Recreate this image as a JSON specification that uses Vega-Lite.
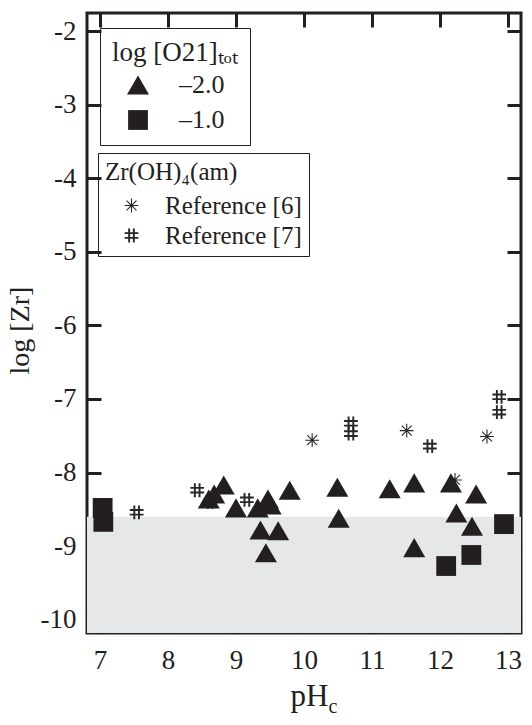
{
  "$schema": "https://vega.github.io/schema/vega-lite/v6.json",
  "width": 434,
  "height": 620,
  "autosize": {"type": "none"},
  "padding": {"left": 87, "top": 13, "right": 11, "bottom": 92},
  "config": {
    "font": "Liberation Serif",
    "view": {"stroke": "#231f20", "strokeWidth": 3},
    "axis": {
      "domain": false,
      "grid": false,
      "tickColor": "#231f20",
      "tickWidth": 3,
      "tickSize": -14,
      "labelFont": "Liberation Serif",
      "labelFontSize": 27,
      "labelColor": "#231f20",
      "titleFont": "Liberation Serif",
      "titleFontSize": 28,
      "titleFontWeight": "normal",
      "titleColor": "#231f20"
    },
    "legend": {
      "titleFont": "Liberation Serif",
      "titleFontSize": 27,
      "titleFontWeight": "normal",
      "titleColor": "#231f20",
      "labelFont": "Liberation Serif",
      "labelFontSize": 26,
      "labelColor": "#231f20",
      "strokeColor": "#231f20"
    }
  },
  "datasets": {
    "band": [{"upper": -8.6, "lower": -10.18}],
    "filled": [
      {"pH": 8.60, "logZr": -8.36, "O21": "–2.0"},
      {"pH": 8.68, "logZr": -8.29, "O21": "–2.0"},
      {"pH": 8.82, "logZr": -8.17, "O21": "–2.0"},
      {"pH": 9.00, "logZr": -8.48, "O21": "–2.0"},
      {"pH": 9.32, "logZr": -8.48, "O21": "–2.0"},
      {"pH": 9.47, "logZr": -8.36, "O21": "–2.0"},
      {"pH": 9.51, "logZr": -8.44, "O21": "–2.0"},
      {"pH": 9.36, "logZr": -8.78, "O21": "–2.0"},
      {"pH": 9.62, "logZr": -8.79, "O21": "–2.0"},
      {"pH": 9.44, "logZr": -9.09, "O21": "–2.0"},
      {"pH": 9.79, "logZr": -8.24, "O21": "–2.0"},
      {"pH": 10.49, "logZr": -8.20, "O21": "–2.0"},
      {"pH": 10.51, "logZr": -8.62, "O21": "–2.0"},
      {"pH": 11.26, "logZr": -8.22, "O21": "–2.0"},
      {"pH": 11.62, "logZr": -8.14, "O21": "–2.0"},
      {"pH": 11.62, "logZr": -9.02, "O21": "–2.0"},
      {"pH": 12.16, "logZr": -8.14, "O21": "–2.0"},
      {"pH": 12.53, "logZr": -8.29, "O21": "–2.0"},
      {"pH": 12.24, "logZr": -8.55, "O21": "–2.0"},
      {"pH": 12.47, "logZr": -8.73, "O21": "–2.0"},
      {"pH": 7.04, "logZr": -8.48, "O21": "–1.0"},
      {"pH": 7.05, "logZr": -8.67, "O21": "–1.0"},
      {"pH": 12.09, "logZr": -9.27, "O21": "–1.0"},
      {"pH": 12.46, "logZr": -9.12, "O21": "–1.0"},
      {"pH": 12.94, "logZr": -8.70, "O21": "–1.0"}
    ],
    "refs": [
      {"pH": 10.12, "logZr": -7.56, "ref": "Reference [6]"},
      {"pH": 11.51, "logZr": -7.43, "ref": "Reference [6]"},
      {"pH": 12.69, "logZr": -7.51, "ref": "Reference [6]"},
      {"pH": 12.22, "logZr": -8.10, "ref": "Reference [6]"},
      {"pH": 7.54, "logZr": -8.54, "ref": "Reference [7]"},
      {"pH": 8.43, "logZr": -8.24, "ref": "Reference [7]"},
      {"pH": 8.62, "logZr": -8.40, "ref": "Reference [7]"},
      {"pH": 9.16, "logZr": -8.37, "ref": "Reference [7]"},
      {"pH": 10.69, "logZr": -7.33, "ref": "Reference [7]"},
      {"pH": 10.69, "logZr": -7.47, "ref": "Reference [7]"},
      {"pH": 11.85, "logZr": -7.64, "ref": "Reference [7]"},
      {"pH": 12.87, "logZr": -6.97, "ref": "Reference [7]"},
      {"pH": 12.87, "logZr": -7.18, "ref": "Reference [7]"}
    ]
  },
  "layer": [
    {
      "data": {"name": "band"},
      "mark": {"type": "rect", "color": "#e6e7e8", "clip": true},
      "encoding": {
        "y": {"field": "upper", "type": "quantitative", "scale": {"domain": [-10.18, -1.755]}, "axis": null},
        "y2": {"field": "lower"}
      }
    },
    {
      "data": {"name": "refs"},
      "mark": {"type": "point", "filled": false, "color": "#2a2627", "strokeWidth": 1.1, "size": 190, "opacity": 1},
      "encoding": {
        "x": {
          "field": "pH", "type": "quantitative",
          "scale": {"domain": [6.81, 13.19], "nice": false, "zero": false},
          "axis": {"orient": "top", "labels": false, "values": [7, 8, 9, 10, 11, 12, 13],
                   "title": "c", "titleFontSize": 20, "titleX": 241, "titleY": 699,
                   "titleAlign": "left", "titleBaseline": "alphabetic", "titleAngle": 0}
        },
        "y": {
          "field": "logZr", "type": "quantitative",
          "scale": {"domain": [-10.18, -1.755], "nice": false, "zero": false},
          "axis": {"orient": "right", "labels": false, "title": null, "values": [-10, -9, -8, -7, -6, -5, -4, -3, -2]}
        },
        "shape": {
          "field": "ref", "type": "nominal",
          "scale": {"domain": ["Reference [6]", "Reference [7]"],
                    "range": ["M0,-1L0,1M-1,0L1,0M-0.72,-0.72L0.72,0.72M-0.72,0.72L0.72,-0.72",
                              "M-0.4,-1L-0.4,1M-0.28,-1L-0.28,1M0.28,-1L0.28,1M0.4,-1L0.4,1M-1,-0.4L1,-0.4M-1,-0.28L1,-0.28M-1,0.28L1,0.28M-1,0.4L1,0.4"]},
          "legend": {
            "title": "Zr(OH)₄(am)",
            "titleFontSize": 25, "labelFontSize": 25,
            "orient": "none", "legendX": 11, "legendY": 140,
            "padding": 7, "titlePadding": 8, "rowPadding": 4,
            "symbolOffset": 14, "labelOffset": 21,
            "symbolSize": 190, "symbolFillColor": "transparent", "symbolStrokeColor": "#2a2627", "symbolStrokeWidth": 1.1,
            "encode": {
              "legend": {"update": {"stroke": {"value": "#231f20"}, "strokeWidth": {"value": 2.5}}}
            }
          }
        }
      }
    },
    {
      "data": {"name": "filled"},
      "mark": {"type": "point", "filled": true, "color": "#231f20", "size": 484, "opacity": 1, "strokeWidth": 0},
      "encoding": {
        "x": {
          "field": "pH", "type": "quantitative",
          "scale": {"domain": [6.81, 13.19], "nice": false, "zero": false},
          "axis": {"orient": "bottom", "values": [7, 8, 9, 10, 11, 12, 13], "labelPadding": 28,
                   "title": "pH", "titleFontSize": 31, "titleX": 241, "titleY": 72, "titleAlign": "right", "titleBaseline": "alphabetic"}
        },
        "y": {
          "field": "logZr", "type": "quantitative",
          "scale": {"domain": [-10.18, -1.755], "nice": false, "zero": false},
          "axis": {"orient": "left", "values": [-10, -9, -8, -7, -6, -5, -4, -3, -2], "labelPadding": 25,
                   "labelExpr": "'' + datum.value",
                   "title": "log [Zr]", "titleX": -59, "titleY": 317, "titleAngle": -90,
                   "titleAlign": "center", "titleBaseline": "alphabetic"}
        },
        "shape": {
          "field": "O21", "type": "nominal",
          "scale": {"domain": ["–2.0", "–1.0"],
                    "range": ["M0,-0.866L1,0.866L-1,0.866Z", "M-0.9,-0.9L0.9,-0.9L0.9,0.9L-0.9,0.9Z"]},
          "legend": {
            "title": "log [O21]ₜₒₜ",
            "orient": "none", "legendX": 13, "legendY": 15,
            "padding": 12, "titlePadding": 5, "rowPadding": 9,
            "symbolOffset": 13, "labelOffset": 28,
            "symbolSize": 484, "symbolFillColor": "#231f20", "symbolStrokeWidth": 0,
            "encode": {"legend": {"update": {"stroke": {"value": "#231f20"}, "strokeWidth": {"value": 2.5}}}}
          }
        }
      }
    }
  ],
  "resolve": {
    "axis": {"x": "independent", "y": "independent"},
    "scale": {"shape": "independent"}
  }
}
